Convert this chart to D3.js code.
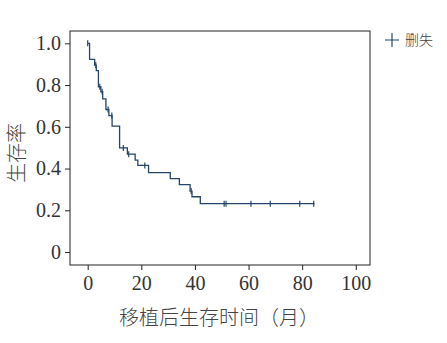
<!DOCTYPE html>
<html>
<head>
<meta charset="utf-8">
<script src="https://cdn.jsdelivr.net/npm/d3@7"></script>
<style>
  body { margin: 0; background: #fff; }
  svg text { fill: #333; }
</style>
</head>
<body>
<svg id="chart" width="447" height="343"></svg>
<script>
// Kaplan-Meier step curve (months, survival after each step)
const stepTimes = [0, 0.7, 2.6, 3.2, 4.0, 4.9, 5.6, 6.8, 7.9, 9.1, 11.9, 14.8, 17.7, 18.7, 22.7, 30.8, 34.2, 38.2, 38.9, 42.0, 84.6];
const survival = [1.0, 0.923, 0.896, 0.869, 0.792, 0.768, 0.734, 0.683, 0.654, 0.603, 0.499, 0.469, 0.44, 0.415, 0.381, 0.352, 0.323, 0.292, 0.265, 0.232, 0.232];
// censored observations (months)
const censorTimes = [0, 3.0, 4.5, 5.4, 7.6, 9.0, 13.3, 15.3, 21.3, 38.6, 50.9, 51.6, 60.9, 68.1, 79.1, 84.3];

const xTicks = [0, 20, 40, 60, 80, 100];
const yTicks = [0, 0.2, 0.4, 0.6, 0.8, 1.0];
const yTickLabels = ["0", "0.2", "0.4", "0.6", "0.8", "1.0"];

const xTitle = "移植后生存时间（月）";
const yTitle = "生存率";
const legendLabel = "删失";

const lineColor = "#25466a";
const serif = "'Liberation Serif', 'DejaVu Serif', serif";
const cjk = "'Noto Sans CJK SC', sans-serif";

const svg = d3.select("#chart");

const plot = { left: 70, right: 370, top: 31, bottom: 265 };

const xScale = d3.scaleLinear().domain([-6.6, 105.3]).range([plot.left, plot.right]);
const yScale = d3.scaleLinear().domain([-0.062, 1.059]).range([plot.bottom, plot.top]);

// survival value at a censor time
function survAt(t) {
  let s = survival[0];
  for (let i = 0; i < stepTimes.length; i++) {
    if (stepTimes[i] <= t) s = survival[i];
  }
  return s;
}

// --- frame ---
svg.append("rect")
  .attr("x", plot.left)
  .attr("y", plot.top)
  .attr("width", plot.right - plot.left)
  .attr("height", plot.bottom - plot.top)
  .attr("fill", "none")
  .attr("stroke", "#222")
  .attr("stroke-width", 1);

// --- axes ---
const xAxis = svg.append("g")
  .attr("transform", `translate(0, ${plot.bottom})`)
  .call(d3.axisBottom(xScale).tickValues(xTicks).tickSize(5).tickPadding(6).tickFormat(d3.format("d")));

const yAxis = svg.append("g")
  .attr("transform", `translate(${plot.left}, 0)`)
  .call(d3.axisLeft(yScale).tickValues(yTicks).tickSize(5).tickPadding(4)
    .tickFormat((d, i) => yTickLabels[i]));

[xAxis, yAxis].forEach((g) => {
  g.select(".domain").remove();
  g.selectAll(".tick line").attr("stroke", "#222");
  g.selectAll(".tick text")
    .style("font-family", serif)
    .style("font-size", "20px")
    .style("fill", "#333");
});

// --- axis titles ---
svg.append("text")
  .attr("x", 219)
  .attr("y", 325)
  .attr("text-anchor", "middle")
  .style("font-family", cjk)
  .style("font-weight", 300)
  .style("font-size", "20px")
  .style("fill", "#444")
  .text(xTitle);

svg.append("text")
  .attr("transform", "translate(24, 153) rotate(-90)")
  .attr("text-anchor", "middle")
  .style("font-family", cjk)
  .style("font-weight", 300)
  .style("font-size", "20px")
  .style("fill", "#444")
  .text(yTitle);

// --- survival curve ---
const line = d3.line()
  .x((d) => xScale(d[0]))
  .y((d) => yScale(d[1]))
  .curve(d3.curveStepAfter);

svg.append("path")
  .datum(d3.zip(stepTimes, survival))
  .attr("fill", "none")
  .attr("stroke", lineColor)
  .attr("stroke-width", 1.3)
  .attr("d", line);

// --- censor marks ---
svg.selectAll("line.censor")
  .data(censorTimes)
  .enter()
  .append("line")
  .attr("class", "censor")
  .attr("x1", (d) => xScale(d))
  .attr("x2", (d) => xScale(d))
  .attr("y1", (d) => yScale(survAt(d)) - 3)
  .attr("y2", (d) => yScale(survAt(d)) + 3)
  .attr("stroke", lineColor)
  .attr("stroke-width", 1.2);

// --- legend ---
const legend = svg.append("g").attr("transform", "translate(392, 40)");
legend.append("path")
  .attr("d", "M-7,0H7M0,-7V7")
  .attr("stroke", lineColor)
  .attr("stroke-width", 1.2);
legend.append("text")
  .attr("x", 13)
  .attr("y", 5)
  .style("font-family", cjk)
  .style("font-weight", 300)
  .style("font-size", "14px")
  .style("fill", "#444")
  .text(legendLabel);
</script>
</body>
</html>
